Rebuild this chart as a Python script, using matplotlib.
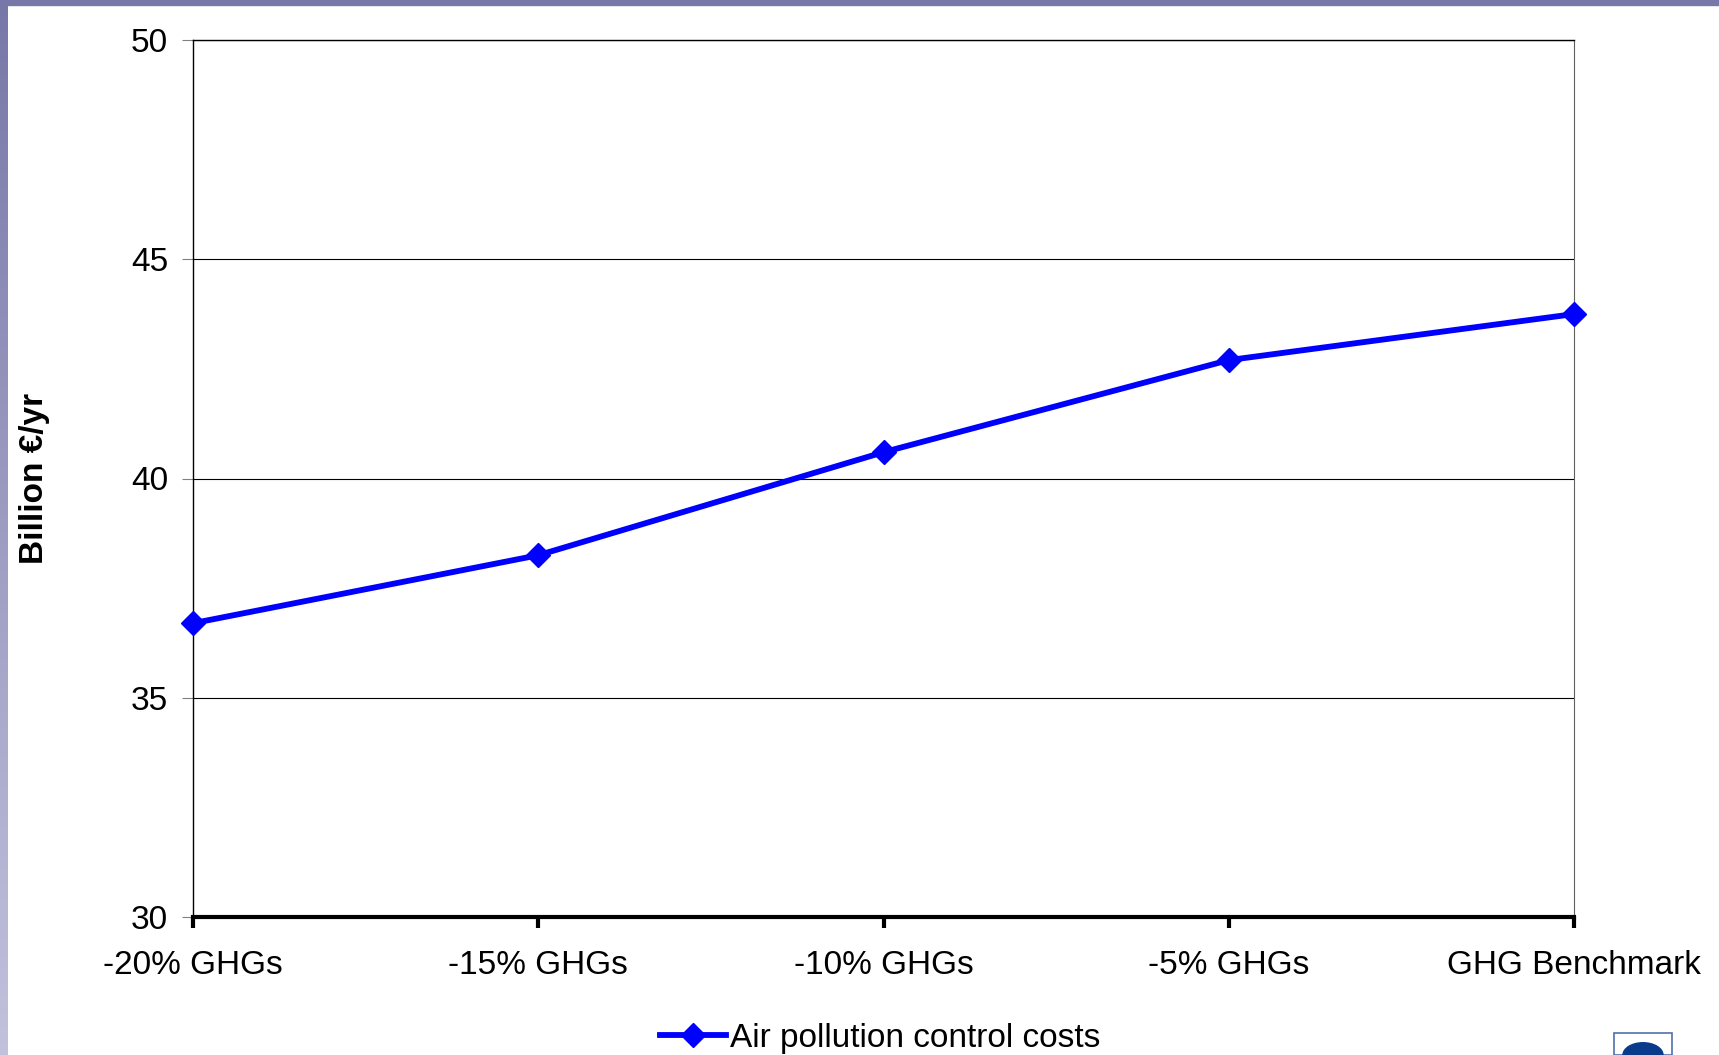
import matplotlib.pyplot as plt
import numpy as np
from matplotlib.patches import Rectangle, Wedge

plt.rcParams['font.family'] = ['Liberation Sans', 'DejaVu Sans']

scenarios = ['-20% GHGs', '-15% GHGs', '-10% GHGs', '-5% GHGs', 'GHG Benchmark']
costs = [36.7, 38.25, 40.6, 42.7, 43.75]

W, H = 1719, 1055
fig = plt.figure(figsize=(W / 100, H / 100), dpi=100)

# slide frame: purple strip on top, fading strip on the left
band = fig.add_axes([0, 0, 8 / W, 1])
grad = np.linspace(0, 1, 256).reshape(-1, 1)
c_top = np.array([0.47, 0.47, 0.66])
c_bot = np.array([0.76, 0.76, 0.87])
band.imshow(c_top + (c_bot - c_top) * grad[:, :, None], aspect='auto')
band.axis('off')
fig.patches.append(Rectangle((0, 1 - 5 / H), 1, 5 / H, transform=fig.transFigure,
                             color='#7878A8', zorder=5))

ax = fig.add_axes([193 / W, 1 - 917 / H, (1574 - 193) / W, (917 - 40) / H])
x = np.arange(len(scenarios))
ax.plot(x, costs, color='#0000FF', lw=4.2, marker='D', ms=12, clip_on=False,
        zorder=5, label='Air pollution control costs')

ax.set_xlim(0, len(scenarios) - 1)
ax.set_ylim(30, 50)
ax.set_yticks([30, 35, 40, 45, 50])
ax.set_xticks(x)
ax.set_xticklabels(scenarios)
ax.yaxis.grid(True, color='black', lw=0.8)
ax.set_axisbelow(True)
ax.tick_params(axis='y', labelsize=24, length=8, color='#808080', pad=10)
ax.tick_params(axis='x', labelsize=24, length=8, width=3, color='black', pad=16)
ax.spines['bottom'].set_linewidth(3)
ax.spines['left'].set_linewidth(1)
ax.spines['top'].set_linewidth(1)
ax.spines['right'].set_color('#606060')
ax.set_ylabel('Billion €/yr', fontsize=24, fontweight='bold', labelpad=58)

fig.legend(loc='center', bbox_to_anchor=(880 / W, 1 - 1038 / H), frameon=False,
           fontsize=24, handlelength=2.0, handletextpad=0.1, borderpad=0)

# corner logo fragment
fig.patches.append(Rectangle((1614 / W, 0), 58 / W, 22 / H, transform=fig.transFigure,
                             fill=False, ec='#5070B0', lw=1.2))
fig.patches.append(Wedge((1643 / W, 0), 20 / W, 0, 180, transform=fig.transFigure,
                         color='#0A3A8C'))

fig.savefig('out.png', dpi=100)
